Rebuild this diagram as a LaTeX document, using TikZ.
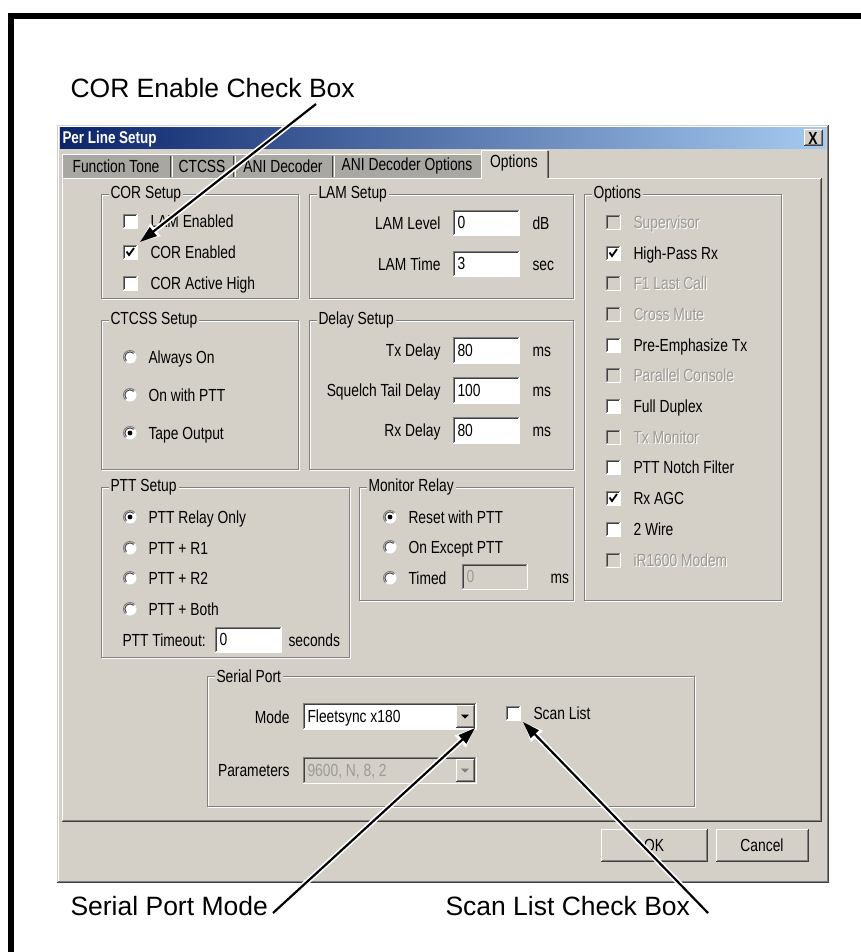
\documentclass[tikz,border=0pt]{standalone}
\usepackage{fontspec}
\setmainfont{Liberation Sans}
\newfontfamily\dlgfont[FakeStretch=0.79]{Liberation Sans}
\usetikzlibrary{arrows.meta}
\definecolor{winbg}{HTML}{D4D0C8}
\definecolor{tabgr}{HTML}{A9A7A2}
\definecolor{dkg}{HTML}{808080}
\definecolor{dkr}{HTML}{404040}
\definecolor{distxt}{HTML}{9C9A95}
\definecolor{tstart}{HTML}{0A246A}
\definecolor{tend}{HTML}{A6CAF0}
\tikzset{
 dlg/.style={font=\fontsize{17.5}{19}\dlgfont, inner sep=0pt, text=black},
 dlgdis/.style={dlg, text=distxt},
 ann/.style={font=\fontsize{26.5}{30}\selectfont, inner sep=0pt, anchor=base west},
 gtitle/.style={dlg, fill=winbg, inner xsep=2pt, inner ysep=1pt, anchor=west},
 halo/.style={white, line width=5.5pt, -{Triangle[length=20pt,width=15pt]}},
 arr/.style={black, line width=2.2pt, -{Triangle[length=17pt,width=11pt]}},
}
% group box: name x1 y1 x2 y2 title
\newcommand\grpbox[6]{%
 \draw[white] ({#2+1},{#3+1}) rectangle ({#4+1},{#5+1});
 \draw[dkg] (#2,#3) rectangle (#4,#5);
 \node[gtitle] (#1) at ({#2+7},#3) {#6};}
% checkbox: name x ycenter state(0 off,1 on,2 disabled) label
\newcommand\ckb[5]{%
 \ifnum#4=2 \fill[winbg] (#2,{#3-7}) rectangle ({#2+14},{#3+7});
 \else \fill[white] (#2,{#3-7}) rectangle ({#2+14},{#3+7}); \fi
 \draw[dkg] (#2,{#3+7}) -- (#2,{#3-7}) -- ({#2+14},{#3-7});
 \draw[dkr] ({#2+1},{#3+6}) -- ({#2+1},{#3-6}) -- ({#2+13},{#3-6});
 \draw[white] (#2,{#3+7.5}) -- ({#2+14.5},{#3+7.5}) -- ({#2+14.5},{#3-7});
 \ifnum#4=1 \draw[black,line width=1.8pt] ({#2+3.5},{#3-0.5}) -- ({#2+6},{#3+3}) -- ({#2+11},{#3-4}); \fi
 \ifnum#4=2
  \node[dlg,text=white,anchor=base west] (#1s) at ({#2+28},{#3+7}) {#5};
  \node[dlgdis,anchor=base west] (#1) at ({#2+27},{#3+6}) {#5};
 \else
  \node[dlg,anchor=base west] (#1) at ({#2+27},{#3+6}) {#5};
 \fi}
% radio: name cx cy selected label
\newcommand\rad[5]{%
 \fill[white] (#2,#3) circle (6.5pt);
 \draw[dkg] (#2,#3) ++(45:6.5pt) arc[start angle=45,end angle=225,radius=6.5pt];
 \draw[dkr] (#2,#3) ++(45:5.2pt) arc[start angle=45,end angle=225,radius=5.2pt];
 \ifnum#4=1 \fill[black] (#2,#3) circle (2.4pt); \fi
 \node[dlg,anchor=base west] (#1) at ({#2+18},{#3+6}) {#5};}
% text field: name x1 y1 x2 y2 text enabled
\newcommand\tfld[7]{%
 \ifnum#7=1 \fill[white] (#2,#3) rectangle (#4,#5);
 \else \fill[winbg] (#2,#3) rectangle (#4,#5); \fi
 \draw[dkg] (#2,#5) -- (#2,#3) -- (#4,#3);
 \draw[dkr] ({#2+1},{#5-1}) -- ({#2+1},{#3+1}) -- ({#4-1},{#3+1});
 \draw[white] (#2,#5) -- (#4,#5) -- (#4,#3);
 \ifnum#7=1 \node[dlg,anchor=base west] (#1) at ({#2+4},{(#3+#5)/2+6}) {#6};
 \else \node[dlgdis,anchor=base west] (#1) at ({#2+4},{(#3+#5)/2+6}) {#6}; \fi}
% raised button: name x1 y1 x2 y2 text
\newcommand\btn[6]{%
 \fill[winbg] (#2,#3) rectangle (#4,#5);
 \draw[white] (#2,#5) -- (#2,#3) -- (#4,#3);
 \draw[dkr] (#2,#5) -- (#4,#5) -- (#4,#3);
 \draw[dkg] ({#2+1},{#5-1}) -- ({#4-1},{#5-1}) -- ({#4-1},{#3+1});
 \node[dlg] (#1) at ({(#2+#4)/2},{(#3+#5)/2}) {#6};}
% drop-down arrow button: name x1 y1 x2 y2 colour
\newcommand\dropb[6]{%
 \fill[winbg] (#2,#3) rectangle (#4,#5);
 \draw[white] (#2,#5) -- (#2,#3) -- (#4,#3);
 \draw[dkr] (#2,#5) -- (#4,#5) -- (#4,#3);
 \draw[dkg] ({#2+1},{#5-1}) -- ({#4-1},{#5-1}) -- ({#4-1},{#3+1});
 \coordinate (#1) at ({(#2+#4)/2},{(#3+#5)/2});
 \fill[#6] ([shift={(-4,-1.5)}]#1) -- ([shift={(4,-1.5)}]#1) -- ([shift={(0,2.5)}]#1) -- cycle;}
\begin{document}
\begin{tikzpicture}[x=1pt,y=-1pt,line width=1pt]
\useasboundingbox (0,0) rectangle (861,952);
\fill[white] (0,0) rectangle (861,952);
% frame
\fill[black] (8,13) rectangle (14,952);
\fill[black] (8,13) rectangle (861,19);
% dialog
\fill[winbg] (57,125) rectangle (829,883);
\draw[white] (58.5,882) -- (58.5,126.5) -- (828,126.5);
\draw[dkr] (57,882.5) -- (828.5,882.5) -- (828.5,125);
\draw[dkg] (58,881.5) -- (827.5,881.5) -- (827.5,126);
\shade[left color=tstart, right color=tend] (60,128) rectangle (826,149);
\node[font=\fontsize{17}{18}\dlgfont\bfseries, text=white, inner sep=0pt, anchor=base west] (title) at (62,144) {Per Line Setup};
\btn{closeb}{804}{130}{822}{146}{\bfseries X}
% tabs
\fill[tabgr] (62,154) rectangle (481,178);
\draw[white] (62.5,178) -- (62.5,154.5) -- (481,154.5);
\foreach \sx in {170,233,332}{
 \draw[dkr] (\sx,156) -- (\sx,177);
 \draw[white] ({\sx+2},156) -- ({\sx+2},177);
}
\node[dlg] (tab1) at (116,166) {Function Tone};
\node[dlg] (tab2) at (202,166) {CTCSS};
\node[dlg] (tab3) at (283,166) {ANI Decoder};
\node[dlg] (tab4) at (407,166) {ANI Decoder Options};
% page
\draw[white] (62.5,820) -- (62.5,178.5) -- (821,178.5);
\draw[dkg] (63,820) -- (820,820) -- (820,179);
\draw[dkr] (62,821.5) -- (821.5,821.5) -- (821.5,178);
% selected tab
\fill[winbg] (481,150) rectangle (548,179);
\draw[white] (481.5,179) -- (481.5,150.5) -- (547,150.5);
\draw[dkg] (547,151) -- (547,178);
\draw[dkr] (548.5,151) -- (548.5,178);
\node[dlg] (tab5) at (514,163) {Options};
% group boxes
\grpbox{gCor}{101}{194}{298}{298}{COR Setup}
\grpbox{gLam}{309}{194}{573}{298}{LAM Setup}
\grpbox{gOpt}{584}{194}{781}{600}{Options}
\grpbox{gCt}{101}{320}{298}{469}{CTCSS Setup}
\grpbox{gDel}{309}{320}{573}{469}{Delay Setup}
\grpbox{gPtt}{101}{487}{349}{657}{PTT Setup}
\grpbox{gMon}{359}{487}{573}{600}{Monitor Relay}
\grpbox{gSer}{207}{676}{694}{806}{Serial Port}
% COR setup
\ckb{cLam}{123}{221}{0}{LAM Enabled}
\ckb{cCor}{123}{252}{1}{COR Enabled}
\ckb{cCorH}{123}{283}{0}{COR Active High}
% LAM setup
\node[dlg,anchor=base east] (lLev) at (441,229) {LAM Level};
\tfld{fLev}{453}{210}{519}{235}{0}{1}
\node[dlg,anchor=base west] (uDb) at (532,229) {dB};
\node[dlg,anchor=base east] (lTime) at (441,270) {LAM Time};
\tfld{fTime}{453}{251}{519}{276}{3}{1}
\node[dlg,anchor=base west] (uSec) at (532,270) {sec};
% options
\ckb{o1}{606}{222}{2}{Supervisor}
\ckb{o2}{606}{253}{1}{High-Pass Rx}
\ckb{o3}{606}{283}{2}{F1 Last Call}
\ckb{o4}{606}{314}{2}{Cross Mute}
\ckb{o5}{606}{345}{0}{Pre-Emphasize Tx}
\ckb{o6}{606}{375}{2}{Parallel Console}
\ckb{o7}{606}{406}{0}{Full Duplex}
\ckb{o8}{606}{437}{2}{Tx Monitor}
\ckb{o9}{606}{467}{0}{PTT Notch Filter}
\ckb{o10}{606}{498}{1}{Rx AGC}
\ckb{o11}{606}{529}{0}{2 Wire}
\ckb{o12}{606}{560}{2}{iR1600 Modem}
% CTCSS
\rad{r1}{130}{357}{0}{Always On}
\rad{r2}{130}{395}{0}{On with PTT}
\rad{r3}{130}{433}{1}{Tape Output}
% delay
\node[dlg,anchor=base east] (lTx) at (441,356) {Tx Delay};
\tfld{fTx}{453}{337}{519}{363}{80}{1}
\node[dlg,anchor=base west] (uTx) at (532,356) {ms};
\node[dlg,anchor=base east] (lSq) at (441,396) {Squelch Tail Delay};
\tfld{fSq}{453}{377}{519}{403}{100}{1}
\node[dlg,anchor=base west] (uSq) at (532,396) {ms};
\node[dlg,anchor=base east] (lRx) at (441,436) {Rx Delay};
\tfld{fRx}{453}{417}{519}{443}{80}{1}
\node[dlg,anchor=base west] (uRx) at (532,436) {ms};
% PTT setup
\rad{p1}{130}{517}{1}{PTT Relay Only}
\rad{p2}{130}{548}{0}{PTT + R1}
\rad{p3}{130}{578}{0}{PTT + R2}
\rad{p4}{130}{609}{0}{PTT + Both}
\node[dlg,anchor=base west] (lTo) at (122,646) {PTT Timeout:};
\tfld{fTo}{215}{627}{281}{652}{0}{1}
\node[dlg,anchor=base west] (uTo) at (288,646) {seconds};
% monitor relay
\rad{m1}{390}{517}{1}{Reset with PTT}
\rad{m2}{390}{547}{0}{On Except PTT}
\rad{m3}{390}{578}{0}{Timed}
\tfld{fTm}{462}{564}{527}{589}{0}{0}
\node[dlg,anchor=base west] (uTm) at (550,583) {ms};
% serial port
\node[dlg,anchor=base east] (lMode) at (290,723) {Mode};
\tfld{fMode}{303}{703}{476}{729}{Fleetsync x180}{1}
\dropb{dMode}{456}{705}{474}{727}{black}
\node[dlg,anchor=base east] (lPar) at (290,776) {Parameters};
\tfld{fPar}{303}{757}{476}{783}{9600, N, 8, 2}{0}
\dropb{dPar}{456}{759}{474}{781}{dkg}
\ckb{cScan}{506}{713}{0}{Scan List}
% buttons
\btn{bOk}{601}{829}{707}{861}{OK}
\btn{bCancel}{716}{829}{808}{861}{Cancel}
% annotations
\node[ann] (aCor) at (70,98) {COR Enable Check Box};
\node[ann] (aSer) at (70,915) {Serial Port Mode};
\node[ann] (aScan) at (445,915) {Scan List Check Box};
\coordinate (corS) at (316,104);
\coordinate (corT) at (140,242);
\coordinate (serS) at (273,913);
\coordinate (serT) at (475,728);
\coordinate (scnS) at (708,913);
\coordinate (scnT) at (523,722);
\draw[halo] (corS) -- (corT);
\draw[halo] (serS) -- (serT);
\draw[halo] (scnS) -- (scnT);
\draw[arr] (corS) -- (corT);
\draw[arr] (serS) -- (serT);
\draw[arr] (scnS) -- (scnT);
\end{tikzpicture}
\end{document}
